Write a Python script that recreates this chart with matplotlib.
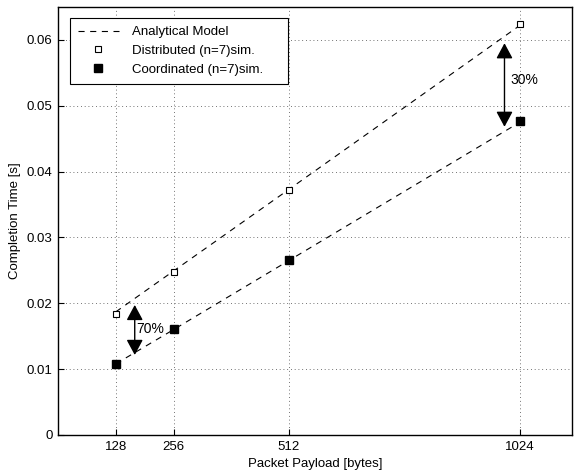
import matplotlib
matplotlib.use('Agg')
import matplotlib.pyplot as plt

plt.rcParams['font.family'] = ['Liberation Sans', 'DejaVu Sans']
plt.rcParams['font.size'] = 9.5

# data
payload = [128, 256, 512, 1024]
model_distributed = [0.0187, 0.0249, 0.0373, 0.0622]
model_coordinated = [0.0108, 0.0160, 0.0265, 0.0475]
sim_distributed = [0.0184, 0.0248, 0.0372, 0.0624]
sim_coordinated = [0.0108, 0.0161, 0.0266, 0.0477]

fig = plt.figure(figsize=(5.75, 4.7), dpi=100)
ax = fig.add_axes([0.101, 0.0745, 0.894, 0.9106])

ax.plot(payload, model_distributed, 'k--', lw=0.8, dashes=(5.5, 5), label='Analytical Model')
ax.plot(payload, model_coordinated, 'k--', lw=0.8, dashes=(5.5, 5))
ax.plot(payload, sim_distributed, 's', mfc='white', mec='black', ms=5, mew=0.8,
        label='Distributed (n=7)sim.')
ax.plot(payload, sim_coordinated, 's', mfc='black', mec='black', ms=5.5,
        label='Coordinated (n=7)sim.')

# difference arrows
arrow = dict(arrowstyle='<|-|>,head_length=0.67,head_width=0.36', color='black',
             lw=1.0, shrinkA=0, shrinkB=0, mutation_scale=14)
ax.annotate('', xy=(170, 0.01975), xytext=(170, 0.01215), arrowprops=arrow)
ax.annotate('', xy=(990, 0.0595), xytext=(990, 0.0468), arrowprops=arrow)
ax.text(174, 0.0161, '70%', va='center', ha='left', fontsize=10)
ax.text(1004, 0.0539, '30%', va='center', ha='left', fontsize=10)

ax.set_xlim(0, 1140)
ax.set_ylim(0, 0.065)
ax.set_xticks(payload)
ax.set_yticks([0, 0.01, 0.02, 0.03, 0.04, 0.05, 0.06])
ax.set_yticklabels(['0', '0.01', '0.02', '0.03', '0.04', '0.05', '0.06'])
ax.tick_params(direction='in', length=4, width=0.8, pad=4)
ax.grid(True, linestyle=(0, (1, 3.5)), color='#444444', lw=0.6)
for s in ax.spines.values():
    s.set_linewidth(1.0)

ax.set_xlabel('Packet Payload [bytes]', labelpad=4)
ax.set_ylabel('Completion Time [s]', labelpad=4)

leg = ax.legend(loc='upper left', bbox_to_anchor=(0.023, 0.8, 0.424, 0.174),
                mode='expand', borderaxespad=0, fancybox=False,
                framealpha=1, edgecolor='black', handlelength=3.1, handletextpad=1.0,
                borderpad=0.6, labelspacing=0.5, fontsize=9.5)
leg.get_frame().set_linewidth(0.8)

fig.savefig('out.png', dpi=100)
